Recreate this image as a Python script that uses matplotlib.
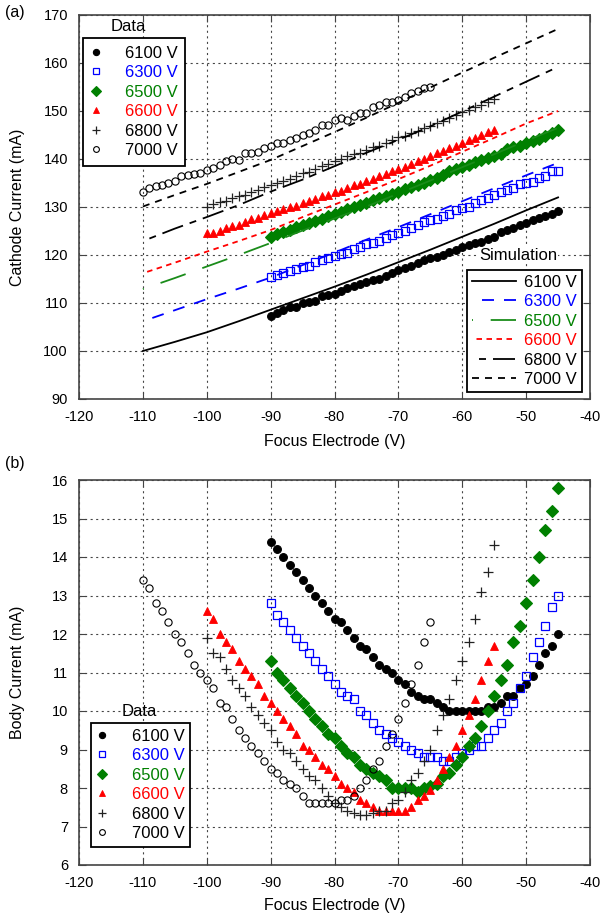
import matplotlib
matplotlib.use("Agg")
import matplotlib.pyplot as plt

plt.rcParams['font.family'] = ['Liberation Sans', 'DejaVu Sans']
plt.rcParams['lines.scale_dashes'] = False
plt.rcParams['axes.unicode_minus'] = False

# ---------------- data ----------------
series_labels = ["6100 V", "6300 V", "6500 V", "6600 V", "6800 V", "7000 V"]
series_colors = ["black", "#0000ff", "#008000", "#ff0000", "black", "black"]

# Top panel: cathode current data (1 V steps)
v_6100 = list(range(-90, -44))
v_6300 = list(range(-90, -44))
v_6500 = list(range(-90, -44))
v_6600 = list(range(-100, -54))
v_6800 = list(range(-100, -54))
v_7000 = list(range(-110, -64))

cath_6100 = [107.3, 108.0, 108.5, 109.2, 109.2, 109.9, 110.2, 110.5, 111.5, 111.7,
             111.9, 112.4, 113.1, 113.5, 114.0, 114.3, 114.7, 115.0, 115.6, 116.3,
             116.8, 117.3, 117.7, 118.3, 118.9, 119.3, 119.6, 120.0, 120.6, 121.0,
             121.6, 122.0, 122.4, 122.8, 123.3, 123.8, 124.8, 125.3, 125.6, 126.2,
             126.6, 127.2, 127.7, 128.2, 128.5, 129.2]
cath_6300 = [115.4, 115.8, 116.3, 116.6, 117.1, 117.5, 117.8, 118.5, 118.9, 119.4,
             119.8, 120.3, 120.5, 121.2, 121.7, 122.2, 122.6, 123.0, 123.5, 124.2,
             124.6, 125.0, 125.7, 126.3, 126.8, 127.3, 127.6, 128.2, 128.6, 129.3,
             129.8, 130.1, 130.8, 131.5, 131.8, 132.4, 133.2, 133.5, 134.0, 134.8,
             135.1, 135.3, 136.1, 136.5, 137.4, 137.6]
cath_6500 = [123.8, 124.3, 124.7, 125.2, 125.8, 126.2, 126.6, 127.0, 127.6, 128.1,
             128.6, 129.0, 129.5, 129.9, 130.5, 130.9, 131.5, 131.8, 132.3, 132.8,
             133.2, 133.7, 134.2, 134.6, 135.1, 135.6, 136.1, 136.7, 137.4, 137.9,
             138.4, 138.8, 139.3, 139.8, 140.2, 140.7, 141.0, 142.1, 142.4, 142.8,
             143.3, 143.8, 144.2, 144.8, 145.4, 146.0]
cath_6600 = [124.5, 124.6, 125.1, 125.6, 126.1, 126.3, 126.9, 127.4, 127.7, 128.3,
             128.8, 129.1, 129.6, 130.0, 130.3, 130.9, 131.3, 131.6, 132.2, 132.6,
             133.1, 133.4, 134.0, 134.5, 134.8, 135.4, 135.9, 136.4, 136.8, 137.5,
             138.0, 138.4, 139.0, 139.6, 140.0, 140.6, 141.2, 141.6, 142.2, 142.8,
             143.4, 143.9, 144.3, 145.1, 145.6, 146.0]
cath_6800 = [130.1, 130.6, 131.0, 131.3, 131.9, 132.2, 132.6, 133.1, 133.6, 134.1,
             134.6, 135.0, 135.5, 135.9, 136.5, 137.0, 137.3, 138.0, 138.6, 139.0,
             139.6, 140.0, 140.6, 141.0, 141.3, 141.9, 142.4, 142.8, 143.4, 144.0,
             144.5, 144.8, 145.4, 145.8, 146.4, 146.9, 147.5, 147.9, 148.6, 149.1,
             149.7, 150.2, 150.8, 151.2, 151.9, 152.4]
cath_7000 = [133.2, 133.9, 134.4, 134.6, 135.1, 135.5, 136.5, 136.7, 136.8, 137.1,
             137.7, 138.1, 138.7, 139.6, 140.1, 139.8, 141.2, 141.3, 141.5, 142.2,
             142.7, 143.3, 143.3, 144.0, 144.3, 145.0, 145.5, 146.0, 147.1, 147.1,
             148.1, 148.5, 148.1, 149.0, 149.6, 149.5, 150.9, 151.3, 151.8, 151.9,
             152.3, 152.9, 153.8, 154.2, 154.7, 154.9]

# Top panel: simulation (5 V steps)
v_sim = [-110, -105, -100, -95, -90, -85, -80, -75, -70, -65, -60, -55, -50, -45]
sim_6100 = [100.0, 101.9, 103.9, 106.2, 108.6, 111.0, 113.4, 115.9, 118.5, 121.1, 123.8, 126.5, 129.3, 132.0]
sim_6300 = [106.2, 108.5, 110.8, 113.0, 115.3, 117.9, 120.5, 123.2, 125.8, 128.5, 131.2, 133.9, 136.6, 139.2]
sim_6500 = [112.9, 115.2, 117.6, 120.0, 122.5, 125.1, 127.6, 130.1, 132.8, 135.5, 138.3, 141.0, 143.8, 146.5]
sim_6600 = [116.2, 118.4, 120.7, 122.9, 125.2, 127.9, 130.5, 133.1, 135.8, 138.6, 141.5, 144.4, 147.4, 150.0]
sim_6800 = [122.9, 125.5, 127.9, 130.4, 133.2, 135.7, 138.5, 141.3, 144.0, 146.8, 149.9, 153.0, 156.1, 159.2]
sim_7000 = [130.1, 132.5, 134.8, 137.3, 139.8, 142.7, 145.6, 148.6, 151.7, 154.9, 158.0, 161.1, 164.1, 167.1]

# Bottom panel: body current data
body_6100 = [14.4, 14.2, 14.0, 13.8, 13.6, 13.4, 13.2, 13.0, 12.8, 12.6,
             12.4, 12.3, 12.1, 11.9, 11.7, 11.6, 11.4, 11.2, 11.1, 11.0,
             10.8, 10.7, 10.5, 10.4, 10.3, 10.3, 10.2, 10.1, 10.0, 10.0,
             10.0, 10.0, 10.0, 10.0, 10.1, 10.1, 10.2, 10.4, 10.4, 10.6,
             10.7, 10.9, 11.2, 11.5, 11.7, 12.0]
body_6300 = [12.8, 12.5, 12.3, 12.1, 11.9, 11.7, 11.5, 11.3, 11.1, 10.9,
             10.7, 10.5, 10.4, 10.3, 10.0, 9.9, 9.7, 9.5, 9.4, 9.3,
             9.2, 9.1, 9.0, 8.9, 8.8, 8.8, 8.8, 8.7, 8.7, 8.8,
             8.9, 9.0, 9.1, 9.1, 9.3, 9.5, 9.7, 10.0, 10.2, 10.6,
             10.9, 11.4, 11.8, 12.2, 12.7, 13.0]
body_6500 = [11.3, 11.0, 10.8, 10.6, 10.4, 10.2, 10.0, 9.8, 9.6, 9.4,
             9.3, 9.1, 8.9, 8.8, 8.6, 8.5, 8.4, 8.3, 8.2, 8.0,
             8.0, 8.0, 8.0, 7.9, 8.0, 8.05, 8.1, 8.3, 8.4, 8.6,
             8.8, 9.1, 9.3, 9.6, 10.0, 10.4, 10.8, 11.2, 11.8, 12.2,
             12.8, 13.4, 14.0, 14.7, 15.2, 15.8]
body_6600 = [12.6, 12.4, 12.0, 11.8, 11.6, 11.3, 11.1, 10.9, 10.7, 10.4,
             10.2, 10.0, 9.8, 9.6, 9.4, 9.1, 9.0, 8.8, 8.6, 8.5,
             8.3, 8.1, 8.0, 7.9, 7.7, 7.6, 7.5, 7.4, 7.4, 7.4,
             7.4, 7.4, 7.5, 7.7, 7.8, 7.95, 8.2, 8.5, 8.8, 9.1,
             9.5, 9.9, 10.3, 10.8, 11.3, 11.7]
body_6800 = [11.9, 11.5, 11.4, 11.1, 10.8, 10.6, 10.4, 10.1, 9.9, 9.7,
             9.5, 9.2, 9.0, 8.9, 8.7, 8.5, 8.3, 8.2, 8.0, 7.8,
             7.6, 7.5, 7.4, 7.35, 7.3, 7.3, 7.35, 7.4, 7.4, 7.6,
             7.7, 7.9, 8.2, 8.4, 8.7, 9.0, 9.5, 9.9, 10.3, 10.8,
             11.3, 11.8, 12.4, 13.1, 13.6, 14.3]
body_7000 = [13.4, 13.2, 12.8, 12.6, 12.3, 12.0, 11.8, 11.5, 11.2, 11.0,
             10.8, 10.6, 10.2, 10.1, 9.8, 9.5, 9.3, 9.1, 8.9, 8.7,
             8.5, 8.4, 8.2, 8.1, 8.0, 7.8, 7.6, 7.6, 7.6, 7.6,
             7.6, 7.7, 7.7, 7.8, 8.0, 8.2, 8.5, 8.7, 9.1, 9.4,
             9.8, 10.2, 10.7, 11.2, 11.8, 12.3]

x_ticks = [-120, -110, -100, -90, -80, -70, -60, -50, -40]
y_ticks_top = [90, 100, 110, 120, 130, 140, 150, 160, 170]
y_ticks_bot = [6, 7, 8, 9, 10, 11, 12, 13, 14, 15, 16]

# ---------------- styles ----------------
P = 1 / 1.389  # px -> pt at 100 dpi
marker_styles = [
    dict(marker='o', ms=5.6, mfc='black', mec='black', mew=0.8),
    dict(marker='s', ms=5.2, mfc='none', mec='#0000ff', mew=0.9),
    dict(marker='D', ms=5.8, mfc='#008000', mec='#008000', mew=0.8),
    dict(marker='^', ms=6.0, mfc='#ff0000', mec='#ff0000', mew=0.6),
    dict(marker='+', ms=7.5, mfc='none', mec='#222222', mew=0.9),
    dict(marker='o', ms=5.2, mfc='none', mec='black', mew=0.8),
]
sim_styles = [
    dict(color='black', ls='-'),
    dict(color='#0000ff', ls=(12 * P, (12 * P, 10 * P))),
    dict(color='#1a8c1a', ls=(25.6 * P, (26.6 * P, 17.7 * P))),
    dict(color='#ff0000', ls=(5.5 * P, (5.5 * P, 4.5 * P))),
    dict(color='black', ls=(22 * P, (22 * P, 7 * P, 7 * P, 7 * P))),
    dict(color='black', ls=(0, (7 * P, 6 * P))),
]

fig = plt.figure(figsize=(6.03, 9.24), dpi=100)
L, R = 79 / 603, 590 / 603
ax1 = fig.add_axes([L, 1 - 399 / 924, R - L, 384 / 924])
ax2 = fig.add_axes([L, 1 - 865 / 924, R - L, 385 / 924])

grid_kw = dict(color='#444444', lw=0.8, ls=(0, (1.5, 2.5)))


def style_axes(ax, xlab_y):
    ax.set_xlim(-120, -40)
    ax.set_xticks(x_ticks)
    ax.grid(True, **grid_kw)
    ax.set_axisbelow(True)
    ax.tick_params(direction='in', top=True, right=True, length=5, width=0.8,
                   color='#444444', labelsize=10.5, pad=8)
    for s in ax.spines.values():
        s.set_color('#444444')
        s.set_linewidth(1.2)
    ax.set_xlabel('Focus Electrode (V)', fontsize=11.5)
    ax.xaxis.set_label_coords(0.5, xlab_y)
    ax.yaxis.set_label_coords(-0.106, 0.5)


# ---------------- top panel ----------------
top_v = [v_6100, v_6300, v_6500, v_6600, v_6800, v_7000]
top_i = [cath_6100, cath_6300, cath_6500, cath_6600, cath_6800, cath_7000]
sims = [sim_6100, sim_6300, sim_6500, sim_6600, sim_6800, sim_7000]

data_handles = []
for v, i, ms, lab in zip(top_v, top_i, marker_styles, series_labels):
    h, = ax1.plot(v, i, ls='none', label=lab, **ms)
    data_handles.append(h)
sim_handles = []
for s, st, lab in zip(sims, sim_styles, series_labels):
    h, = ax1.plot(v_sim, s, lw=1.3, label=lab, **st)
    sim_handles.append(h)

ax1.set_ylim(90, 170)
ax1.set_yticks(y_ticks_top)
ax1.set_ylabel('Cathode Current (mA)', fontsize=11.5)
style_axes(ax1, -0.09)

leg_kw = dict(fontsize=12, frameon=True, fancybox=False, framealpha=1,
              edgecolor='black', borderaxespad=0, labelspacing=0.27)
leg1 = ax1.legend(handles=data_handles, loc='upper left', bbox_to_anchor=(0.008, 0.940),
                  handlelength=0.6, handletextpad=1.45, numpoints=1, markerscale=0.8,
                  borderpad=0.45, **leg_kw)
leg1.get_frame().set_linewidth(1.3)
for t, c in zip(leg1.get_texts(), series_colors):
    t.set_color(c)
ax1.add_artist(leg1)
ax1.text(0.096, 0.969, 'Data', transform=ax1.transAxes, ha='center', va='center', fontsize=12)

leg2 = ax1.legend(handles=sim_handles, loc='lower right', bbox_to_anchor=(0.984, 0.018),
                  handlelength=2.6, handletextpad=0.5, borderpad=0.3, **leg_kw)
leg2.get_frame().set_linewidth(1.3)
for t, c in zip(leg2.get_texts(), series_colors):
    t.set_color(c)
ax1.text(0.859, 0.375, 'Simulation', transform=ax1.transAxes, ha='center', va='center',
         fontsize=12, bbox=dict(facecolor='white', edgecolor='none', pad=0.5))

# ---------------- bottom panel ----------------
bot_i = [body_6100, body_6300, body_6500, body_6600, body_6800, body_7000]
bot_handles = []
for v, i, ms, lab in zip(top_v, bot_i, marker_styles, series_labels):
    h, = ax2.plot(v, i, ls='none', label=lab, **ms)
    bot_handles.append(h)

ax2.set_ylim(6, 16)
ax2.set_yticks(y_ticks_bot)
ax2.set_ylabel('Body Current (mA)', fontsize=11.5)
style_axes(ax2, -0.085)

leg3 = ax2.legend(handles=bot_handles, loc='upper left', bbox_to_anchor=(0.023, 0.369),
                  handlelength=0.6, handletextpad=1.5, numpoints=1, markerscale=0.8,
                  borderpad=0.35, **leg_kw)
leg3.get_frame().set_linewidth(1.3)
for t, c in zip(leg3.get_texts(), series_colors):
    t.set_color(c)
ax2.text(0.119, 0.40, 'Data', transform=ax2.transAxes, ha='center', va='center', fontsize=12)

fig.text(5 / 603, 1 - 12 / 924, '(a)', fontsize=11.5, ha='left', va='center')
fig.text(5 / 603, 1 - 463 / 924, '(b)', fontsize=11.5, ha='left', va='center')

fig.savefig('out.png', dpi=100)
